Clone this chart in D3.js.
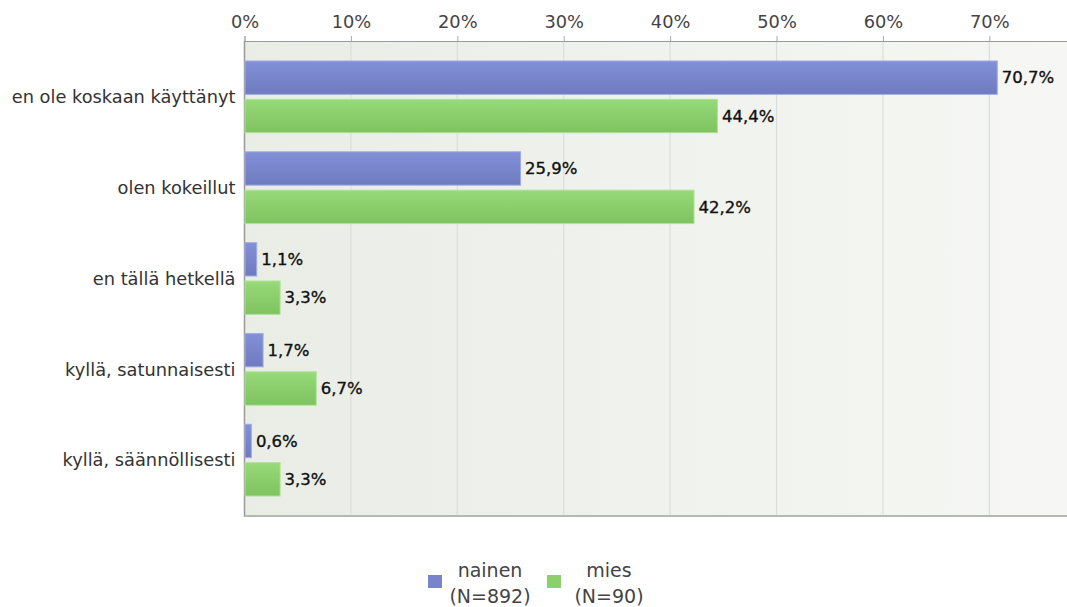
<!DOCTYPE html>
<html>
<head>
<meta charset="utf-8">
<script src="https://cdn.jsdelivr.net/npm/d3@7"></script>
<style>
  body { margin: 0; background: #fff; }
  text { font-family: "DejaVu Sans", sans-serif; }
  .tick_label { font-size: 17.8px; fill: #444; }
  .cat_label { font-size: 17.8px; fill: #333; }
  .value_label { font-size: 16.5px; fill: #111; stroke: #111; stroke-width: 0.35px; }
  .legend_text { font-size: 19px; fill: #444; }
</style>
</head>
<body>
<div id="chart"></div>
<script>
var categories = ["en ole koskaan käyttänyt", "olen kokeillut", "en tällä hetkellä", "kyllä, satunnaisesti", "kyllä, säännöllisesti"]
var series = ["nainen", "mies"]
var series_n = ["(N=892)", "(N=90)"]
var nainen_values = [70.7, 25.9, 1.1, 1.7, 0.6]
var mies_values = [44.4, 42.2, 3.3, 6.7, 3.3]
var tick_values = [0, 10, 20, 30, 40, 50, 60, 70]

var width = 1067, height = 607
var plot = { "left": 244.5, "right": 1067, "top": 41, "bottom": 516 }

var fi = d3.formatLocale({ "decimal": ",", "thousands": " ", "grouping": [3], "currency": ["", " €"] })
var fmt = fi.format(".1f")

var svg = d3.select("#chart").append("svg")
  .attr("width", width)
  .attr("height", height)

var defs = svg.append("defs")

function gradient(id, x2, y2, c1, c2) {
  var g = defs.append("linearGradient")
    .attr("id", id)
    .attr("x1", 0).attr("y1", 0)
    .attr("x2", x2).attr("y2", y2)
  g.append("stop").attr("offset", "0%").attr("stop-color", c1)
  g.append("stop").attr("offset", "100%").attr("stop-color", c2)
}
gradient("bg_grad", 1, 0, "#eaede6", "#f6f7f4")
gradient("grad_nainen", 0, 1, "#8290d8", "#6e7bc0")
gradient("grad_mies", 0, 1, "#97da79", "#7dc35f")

var fills = { "nainen": "url(#grad_nainen)", "mies": "url(#grad_mies)" }
var strokes = { "nainen": "#a3acdf", "mies": "#b0e29a" }
var legend_colors = { "nainen": "#7884cc", "mies": "#8bd06c" }

var x = d3.scaleLinear()
  .domain([0, 77.3])
  .range([plot.left, plot.right])

var y = d3.scaleBand()
  .domain(categories)
  .range([plot.top, plot.bottom])
  .paddingInner(0.21)
  .paddingOuter(0.22)

var y_sub = d3.scaleBand()
  .domain(series)
  .range([0, y.bandwidth()])
  .paddingInner(0.13)

// plot background
svg.append("rect")
  .attr("x", plot.left)
  .attr("y", plot.top)
  .attr("width", plot.right - plot.left)
  .attr("height", plot.bottom - plot.top)
  .attr("fill", "url(#bg_grad)")

// grid lines
svg.append("g")
  .selectAll("line")
  .data(tick_values.slice(1))
  .join("line")
    .attr("x1", function(d) { return x(d) })
    .attr("x2", function(d) { return x(d) })
    .attr("y1", plot.top)
    .attr("y2", plot.bottom)
    .attr("stroke", "#dcdeda")
    .attr("stroke-width", 1.2)

// top axis
var axis_g = svg.append("g")
  .attr("transform", "translate(0," + plot.top + ")")
  .call(d3.axisTop(x)
    .tickValues(tick_values)
    .tickSize(5)
    .tickPadding(8)
    .tickFormat(function(d) { return d + "%" }))
axis_g.select(".domain").attr("stroke", "#999")
axis_g.selectAll(".tick line").attr("stroke", "#aaa")
axis_g.selectAll(".tick text")
  .attr("class", "tick_label")
  .attr("font-family", null)
  .attr("font-size", null)
  .attr("fill", null)

// left and bottom frame
svg.append("line")
  .attr("x1", plot.left).attr("x2", plot.left)
  .attr("y1", plot.top).attr("y2", plot.bottom + 1)
  .attr("stroke", "#9a9a9a")
  .attr("stroke-width", 1.5)
svg.append("line")
  .attr("x1", plot.left).attr("x2", plot.right)
  .attr("y1", plot.bottom).attr("y2", plot.bottom)
  .attr("stroke", "#b5b8b3")
  .attr("stroke-width", 2)

// category labels
svg.append("g")
  .selectAll("text")
  .data(categories)
  .join("text")
    .attr("class", "cat_label")
    .attr("x", plot.left - 9)
    .attr("y", function(d) { return y(d) + y.bandwidth() / 2 })
    .attr("dy", "0.35em")
    .attr("text-anchor", "end")
    .text(function(d) { return d })

// bars
var rows = []
categories.forEach(function(c, i) {
  rows.push({ "category": c, "series": "nainen", "value": nainen_values[i] })
  rows.push({ "category": c, "series": "mies", "value": mies_values[i] })
})

var bar_g = svg.append("g")
bar_g.selectAll("rect")
  .data(rows)
  .join("rect")
    .attr("x", x(0) + 0.5)
    .attr("y", function(d) { return y(d.category) + y_sub(d.series) })
    .attr("width", function(d) { return x(d.value) - x(0) })
    .attr("height", y_sub.bandwidth())
    .attr("fill", function(d) { return fills[d.series] })
    .attr("stroke", function(d) { return strokes[d.series] })
    .attr("stroke-width", 1)

bar_g.selectAll("text")
  .data(rows)
  .join("text")
    .attr("class", "value_label")
    .attr("x", function(d) { return x(d.value) + 5 })
    .attr("y", function(d) { return y(d.category) + y_sub(d.series) + y_sub.bandwidth() / 2 })
    .attr("dy", "0.35em")
    .text(function(d) { return fmt(d.value) + "%" })

// legend
var legend_x = { "nainen": 428, "mies": 547 }
var legend = svg.append("g")
  .selectAll("g")
  .data(series)
  .join("g")
    .attr("transform", function(d) { return "translate(" + legend_x[d] + ",575)" })
legend.append("rect")
  .attr("width", 14)
  .attr("height", 13)
  .attr("fill", function(d) { return legend_colors[d] })
legend.append("text")
  .attr("class", "legend_text")
  .attr("x", 62)
  .attr("y", 2)
  .attr("text-anchor", "middle")
  .text(function(d) { return d })
legend.append("text")
  .attr("class", "legend_text")
  .attr("x", 62)
  .attr("y", 28)
  .attr("text-anchor", "middle")
  .text(function(d, i) { return series_n[i] })
</script>
</body>
</html>
